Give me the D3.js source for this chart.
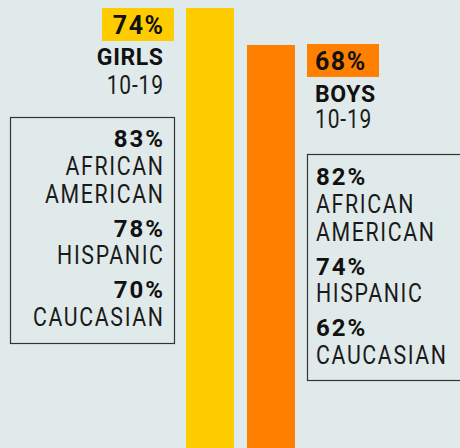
<!DOCTYPE html>
<html><head><meta charset="utf-8">
<script src="https://cdn.jsdelivr.net/npm/d3@7"></script>
<style>
html,body{margin:0;padding:0;background:#e1eaea;}
svg{display:block;font-family:Roboto,sans-serif;}
</style></head>
<body>
<script>
const categories = ["GIRLS", "BOYS"];
const ageRange = "10-19";
const overall = [74, 68];
const groups = ["AFRICAN AMERICAN", "HISPANIC", "CAUCASIAN"];
const girlsByGroup = [83, 78, 70];
const boysByGroup = [82, 74, 62];
const colors = ["#ffcc00", "#ff8000"];

const W = 460, H = 448;
const svg = d3.select("body").append("svg").attr("width", W).attr("height", H);
svg.append("rect").attr("width", W).attr("height", H).attr("fill", "#e1eaea");

const x = d3.scaleBand().domain(categories).range([186, 295]).paddingInner(13/61).paddingOuter(0);
const y = d3.scaleLinear().domain([0, 74]).range([464, 8]);

svg.selectAll("rect.bar").data(categories).join("rect")
  .attr("class", "bar")
  .attr("x", d => x(d))
  .attr("width", x.bandwidth())
  .attr("y", (d, i) => y(overall[i]))
  .attr("height", (d, i) => y(0) - y(overall[i]))
  .attr("fill", (d, i) => colors[i]);

const fmt = v => v + "%";

function addText(tx, ty, str, o) {
  const dx = o.anchor === "end" ? o.ls * o.sx : 0;
  svg.append("g").attr("transform", `translate(${tx + dx},${ty}) scale(${o.sx},1)`)
    .append("text").attr("x", 0).attr("y", 0).attr("text-anchor", o.anchor)
    .attr("font-size", o.size).attr("font-weight", o.weight).attr("letter-spacing", o.ls)
    .attr("fill", o.fill || "#111").text(str);
}
const numStyle = a => ({anchor: a, size: 24, weight: 700, ls: 2, sx: 1});
const hdrNumStyle = a => ({anchor: a, size: 25, weight: 700, ls: 1.5, sx: 1});
const catStyle = a => ({anchor: a, size: 23, weight: 700, ls: 0.6, sx: 1});
const lblStyle = a => ({anchor: a, size: 26, weight: 400, ls: 2, sx: 0.82, fill: "#1a1a1a"});
const ageStyle = a => ({anchor: a, size: 25, weight: 400, ls: 1, sx: 0.84, fill: "#1a1a1a"});

// Header labels
const side = [
  {anchor: "end", tx: 163, box: [102, 174]},
  {anchor: "start", tx: 315, box: [307, 379]}
];
categories.forEach((c, i) => {
  const top = y(overall[i]);
  const s = side[i];
  const by = i === 0 ? top : top - 1;
  svg.append("rect").attr("x", s.box[0]).attr("y", by).attr("width", s.box[1] - s.box[0]).attr("height", 33).attr("fill", colors[i]);
  addText(s.tx, by + 26, fmt(overall[i]), hdrNumStyle(s.anchor));
  addText(s.tx, by + 57 + (i === 1 ? 1 : 0), c, catStyle(s.anchor));
  addText(s.tx, by + 86 + (i === 1 ? -2 : 0), ageRange, ageStyle(s.anchor));
});

// Breakdown boxes
const boxes = [
  {vals: girlsByGroup, rect: [10, 117, 164, 226], anchor: "end", tx: 163, start: 147},
  {vals: boysByGroup, rect: [307, 154, 170, 226], anchor: "start", tx: 316, start: 185}
];
boxes.forEach(b => {
  svg.append("rect").attr("x", b.rect[0] + 0.5).attr("y", b.rect[1] + 0.5).attr("width", b.rect[2]).attr("height", b.rect[3])
    .attr("fill", "none").attr("stroke", "#333").attr("stroke-width", 1.2);
  let yy = b.start;
  groups.forEach((g, gi) => {
    addText(b.tx, yy, fmt(b.vals[gi]), numStyle(b.anchor));
    yy += 27.5;
    g.split(" ").forEach((line, li) => {
      if (li > 0) yy += 28;
      addText(b.tx, yy, line, lblStyle(b.anchor));
    });
    yy += 34;
  });
});
</script>
</body></html>
